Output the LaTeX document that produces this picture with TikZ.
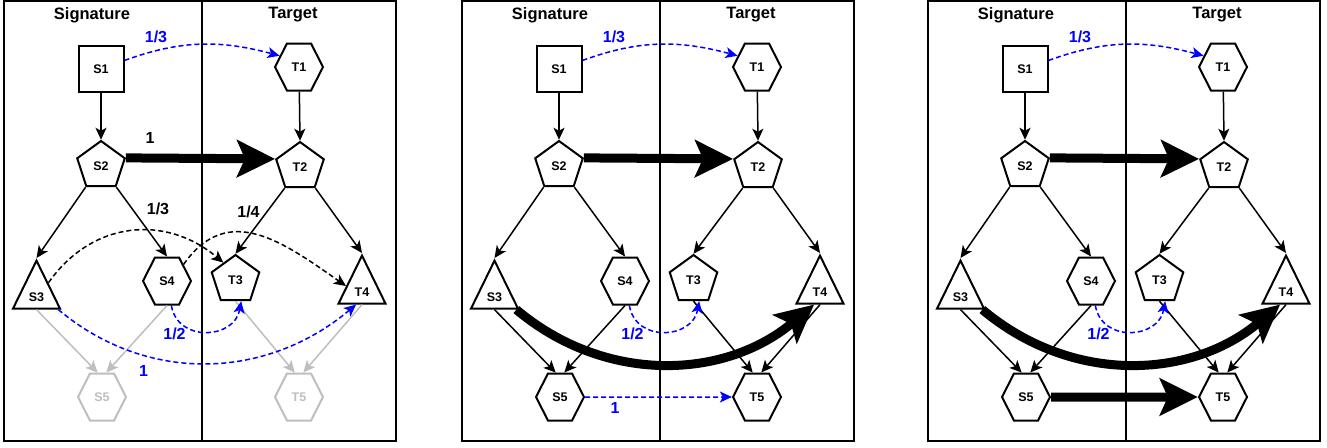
\documentclass[tikz,border=0pt]{standalone}
\usepackage{fontspec}
\setmainfont{Liberation Sans}
\usetikzlibrary{shapes.geometric, shapes.symbols, arrows.meta, positioning}
\definecolor{linkblue}{RGB}{0, 0, 255}
\definecolor{fadegray}{RGB}{190, 190, 190}

\tikzset{
  panel/.style={line width=2pt},
  colhead/.style={font=\fontsize{16.5}{19}\selectfont\bfseries},
  shapebox/.style={draw, line width=2pt, inner sep=0pt, font=\fontsize{12.5}{14}\selectfont\bfseries},
  sqnode/.style={shapebox, rectangle, minimum width=45pt, minimum height=46pt},
  hexnode/.style={shapebox, signal, signal to=east and west, signal pointer angle=126, minimum width=48pt, minimum height=47pt},
  pentnode/.style={shapebox, regular polygon, regular polygon sides=5, minimum size=50pt},
  trinode/.style={shapebox, isosceles triangle, shape border rotate=90, isosceles triangle stretches, minimum width=47pt, minimum height=48pt},
  link/.style={line width=1.5pt, -{Stealth[length=12pt, width=11pt, inset=3pt]}},
  maplink/.style={link, linkblue, dash pattern=on 5pt off 3pt},
  candlink/.style={maplink, black},
  heavylink/.style={line width=9pt, -{Stealth[length=38pt, width=37pt, inset=8pt]}},
  weight/.style={font=\fontsize{16}{18}\selectfont\bfseries},
}

\begin{document}
\begin{tikzpicture}[x=1pt, y=-1pt]
  \useasboundingbox (0,0) rectangle (1327,447);

  % The three panels share one skeleton
  \foreach \p/\dx/\low in {a/4/fadegray, b/462/black, c/928/black} {
    \begin{scope}[xshift=\dx pt, name prefix=\p-]
      \draw[panel] (0,1) rectangle (392,441);
      \draw[panel] (198,1) -- (198,441);
      \node[colhead] (sig) at (88,15) {Signature};
      \node[colhead] (tgt) at (289,15) {Target};

      % Signature side
      \node[sqnode] (S1) at (97,69) {S1};
      \node[pentnode] (S2) at (97,166) {S2};
      \node[trinode, anchor=apex] (S3) at (32.5,258) {S3};
      \node[hexnode] (S4) at (163,281) {S4};
      \node[hexnode, draw=\low, text=\low] (S5) at (98,397) {S5};

      % Target side
      \node[hexnode] (T1) at (295,67) {T1};
      \node[pentnode] (T2) at (296,167) {T2};
      \node[pentnode] (T3) at (231.5,280) {T3};
      \node[trinode, anchor=apex] (T4) at (358,253) {T4};
      \node[hexnode, draw=\low, text=\low] (T5) at (295,397) {T5};

      \draw[link] (S1) -- (S2.corner 1);
      \draw[link] (S2.corner 3) -- (S3.apex);
      \draw[link] (S2.corner 4) -- (S4.north);
      \draw[link] (T1) -- (T2.corner 1);
      \draw[link] (T2.corner 3) -- (T3.corner 1);
      \draw[link] (T2.corner 4) -- (T4.apex);
      \draw[link, \low] (S3.south) -- (S5.100);
      \draw[link, \low] (S4.south) -- (S5.80);
      \draw[link, \low] (T3.side 3) -- (T5.100);
      \draw[link, \low] (T4.south) -- (T5.80);

      % Mappings every panel keeps
      \draw[maplink] (S1.20) to[out=20, in=165] (T1.150);
      \node[weight, linkblue] (w-s1) at (152,37) {1/3};
      \draw[heavylink] (S2.corner 5) -- (T2.corner 2);
      \draw[maplink] (S4.-80) to[out=-80, in=-100, looseness=1.4] (T3.-75);
      \node[weight, linkblue] (w-s4) at (170.5,334) {1/2};
    \end{scope}
  }

  % Panel a: candidate mappings
  \node[weight] (a-w-s2) at (150,138) {1};
  \draw[candlink] (a-S3.50) to[out=55, in=140, looseness=1.1] (a-T3.125);
  \node[weight] (a-w-s3) at (158,209) {1/3};
  \draw[candlink] (a-S4.45) to[out=55, in=145, looseness=1.2] (a-T4.160);
  \node[weight] (a-w-s4b) at (248.5,212) {1/4};
  \draw[maplink] (a-S3.-30) to[out=-40, in=-140] (a-T4.-115);
  \node[weight, linkblue] (a-w-s3b) at (143.5,370.5) {1};

  % Panel b
  \draw[heavylink] (b-S3.-30) to[out=-40, in=-140] (b-T4.-115);
  \draw[maplink] (b-S5) -- (b-T5);
  \node[weight, linkblue] (b-w-s5) at (615,408) {1};

  % Panel c
  \draw[heavylink] (c-S3.-30) to[out=-40, in=-140] (c-T4.-115);
  \draw[heavylink] (c-S5) -- (c-T5);
\end{tikzpicture}
\end{document}
